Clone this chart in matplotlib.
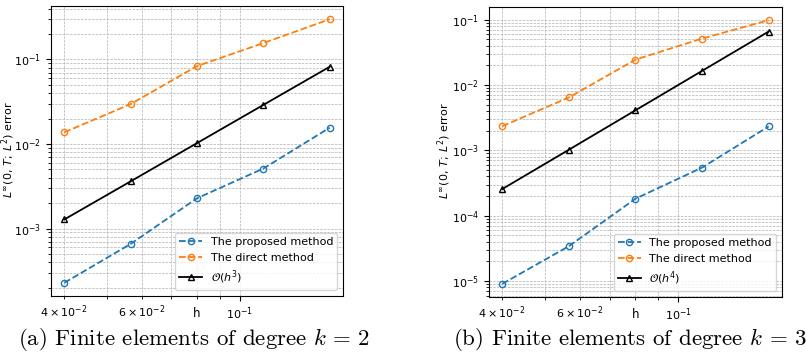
import numpy as np
import matplotlib
matplotlib.use("Agg")
import matplotlib.pyplot as plt

# mesh sizes (same for both panels)
h = [0.04, 0.0566, 0.08, 0.1131, 0.16]

# (a) degree k = 2
proposed_k2 = [2.28e-4, 6.59e-4, 2.28e-3, 5.12e-3, 1.56e-2]
direct_k2 = [1.374e-2, 2.968e-2, 8.34e-2, 1.56e-1, 2.99e-1]
ref_k2 = [1.28e-3, 3.62e-3, 1.024e-2, 2.896e-2, 8.192e-2]

# (b) degree k = 3
proposed_k3 = [9.08e-6, 3.43e-5, 1.82e-4, 5.44e-4, 2.32e-3]
direct_k3 = [2.34e-3, 6.45e-3, 2.44e-2, 5.12e-2, 9.77e-2]
ref_k3 = [2.56e-4, 1.024e-3, 4.096e-3, 1.6384e-2, 6.5536e-2]

panels = [
    (proposed_k2, direct_k2, ref_k2, r"$\mathcal{O}(h^3)$", "(a) Finite elements of degree $k\,=\,2$"),
    (proposed_k3, direct_k3, ref_k3, r"$\mathcal{O}(h^4)$", "(b) Finite elements of degree $k\,=\,3$"),
]

plt.rcParams["font.size"] = 8

fig = plt.figure(figsize=(8.06, 3.64), dpi=100)
boxes = [[0.0633, 0.1868, 0.3623, 0.7967], [0.6067, 0.184, 0.3635, 0.7967]]
caption_x = [0.2413, 0.782]
ylabel_x = [-0.118, -0.124]

for box, (prop, direct, ref, ref_label, caption), cx, yx in zip(boxes, panels, caption_x, ylabel_x):
    ax = fig.add_axes(box)
    ax.loglog(h, prop, "o--", color="tab:blue", mfc="none", ms=4.5, lw=1.3,
              label="The proposed method")
    ax.loglog(h, direct, "o--", color="tab:orange", mfc="none", ms=4.5, lw=1.3,
              label="The direct method")
    ax.loglog(h, ref, "^-", color="black", mfc="none", ms=4.5, lw=1.3,
              label=ref_label)
    ax.grid(True, which="both", linestyle="--", linewidth=0.5, color="#b0b0b0")
    ax.set_xlabel("h", fontsize=8.5)
    ax.set_ylabel(r"$L^\infty(0,\,T;\,L^2)$ error", fontsize=8)
    ax.xaxis.set_label_coords(0.5, -0.038)
    ax.yaxis.set_label_coords(yx, 0.505)
    ax.legend(loc="lower right")
    fig.text(cx, 0.068, caption, ha="center", va="center", fontsize=16.5,
             family="cmr10", math_fontfamily="cm")

fig.savefig("out.png", dpi=100)
